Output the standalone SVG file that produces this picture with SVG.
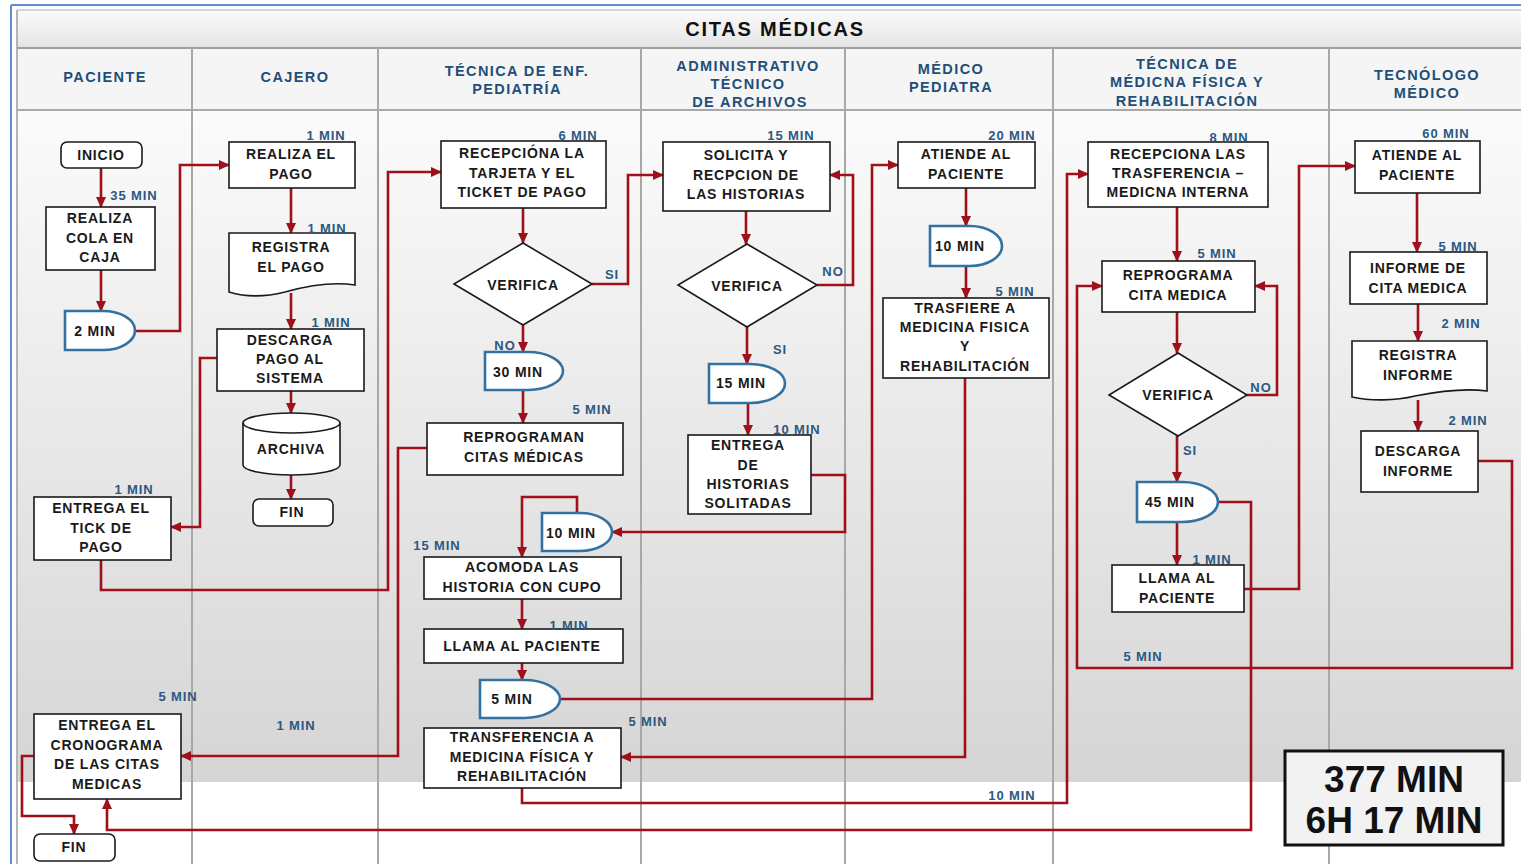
<svg xmlns="http://www.w3.org/2000/svg" width="1521" height="864" viewBox="0 0 1521 864">
<defs>
<linearGradient id="gBody" x1="0" y1="0" x2="0" y2="1">
<stop offset="0" stop-color="#fbfbfb"/>
<stop offset="1" stop-color="#d5d5d5"/>
</linearGradient>
<linearGradient id="gTitle" x1="0" y1="0" x2="0" y2="1">
<stop offset="0" stop-color="#fbfbfb"/>
<stop offset="1" stop-color="#e4e4e4"/>
</linearGradient>
<marker id="ah" markerUnits="userSpaceOnUse" markerWidth="11" markerHeight="10" viewBox="0 0 11 10" refX="10" refY="5" orient="auto">
<path d="M0,0 L11,5 L0,10 Z" fill="#a0101a"/>
</marker>
<style>
.box{fill:#fff;stroke:#1a1a1a;stroke-width:1.6}
.delay{fill:#fff;stroke:#3272a3;stroke-width:2.6}
.con{fill:none;stroke:#a0101a;stroke-width:2.6;marker-end:url(#ah)}
.lane{stroke:#a8a8a8;stroke-width:2}
.t{font-family:"Liberation Sans",Arial,sans-serif;font-weight:bold;font-size:14px;fill:#1a1a1a;text-anchor:middle;dominant-baseline:central;letter-spacing:0.8px}
.tm{font-family:"Liberation Sans",Arial,sans-serif;font-weight:bold;font-size:13px;fill:#2b5882;text-anchor:middle;dominant-baseline:central;letter-spacing:0.9px}
.hd{font-family:"Liberation Sans",Arial,sans-serif;font-weight:bold;font-size:14.5px;fill:#1f4e79;text-anchor:middle;dominant-baseline:central;letter-spacing:1.4px}
</style>
</defs>

<g id="background">
<rect x="0" y="0" width="1521" height="864" fill="#ffffff"/>
<rect x="17" y="10" width="1504" height="38" fill="url(#gTitle)"/>
<rect x="17" y="48" width="1504" height="62" fill="#f5f5f5"/>
<rect x="17" y="110" width="1504" height="672" fill="url(#gBody)"/>
<line x1="11" y1="5" x2="11" y2="864" stroke="#5b8fd0" stroke-width="2"/>
<line x1="11" y1="5" x2="1521" y2="5" stroke="#5b8fd0" stroke-width="2"/>
<line x1="17" y1="10" x2="17" y2="864" stroke="#b4b4b4" stroke-width="2"/>
<line x1="17" y1="10" x2="1521" y2="10" stroke="#c8c8c8" stroke-width="1.5"/>
<line x1="17" y1="48" x2="1521" y2="48" stroke="#a0a0a0" stroke-width="2"/>
<line x1="17" y1="110" x2="1521" y2="110" stroke="#a8a8a8" stroke-width="2"/>
<line class="lane" x1="192" y1="48" x2="192" y2="864"/>
<line class="lane" x1="378" y1="48" x2="378" y2="864"/>
<line class="lane" x1="641" y1="48" x2="641" y2="864"/>
<line class="lane" x1="845" y1="48" x2="845" y2="864"/>
<line class="lane" x1="1053" y1="48" x2="1053" y2="864"/>
<line class="lane" x1="1329" y1="48" x2="1329" y2="864"/>
<text x="775" y="29" style="font-family:'Liberation Sans',Arial,sans-serif;font-weight:bold;font-size:20px;fill:#111;text-anchor:middle;dominant-baseline:central;letter-spacing:1.8px">CITAS MÉDICAS</text>
<text class="hd" x="105" y="77">PACIENTE</text>
<text class="hd" x="295" y="77">CAJERO</text>
<text class="hd" x="517" y="71">TÉCNICA DE ENF.</text>
<text class="hd" x="517" y="89">PEDIATRÍA</text>
<text class="hd" x="748" y="66">ADMINISTRATIVO</text>
<text class="hd" x="748" y="84">TÉCNICO</text>
<text class="hd" x="750" y="102">DE ARCHIVOS</text>
<text class="hd" x="951" y="69">MÉDICO</text>
<text class="hd" x="951" y="87">PEDIATRA</text>
<text class="hd" x="1187" y="64">TÉCNICA DE</text>
<text class="hd" x="1187" y="82">MÉDICNA FÍSICA Y</text>
<text class="hd" x="1187" y="101">REHABILITACIÓN</text>
<text class="hd" x="1427" y="75">TECNÓLOGO</text>
<text class="hd" x="1427" y="93">MÉDICO</text>
</g>

<g id="connectors">
<path class="con" d="M101,167 V207"/>
<path class="con" d="M101,270 V311"/>
<path class="con" d="M134,331 H180 V165 H229"/>
<path class="con" d="M291,188 V233"/>
<path class="con" d="M291,293 V329"/>
<path class="con" d="M291,391 V413"/>
<path class="con" d="M291,475 V499"/>
<path class="con" d="M217,358 H200 V527 H171"/>
<path class="con" d="M101,560 V590 H388 V172 H441"/>
<path class="con" d="M523,208 V243"/>
<path class="con" d="M592,284 H628 V175 H663"/>
<path class="con" d="M523,325 V352"/>
<path class="con" d="M523,390 V423"/>
<path class="con" d="M427,448 H398 V756 H181"/>
<path class="con" d="M746,211 V244"/>
<path class="con" d="M817,285 H853 V175 H830"/>
<path class="con" d="M747,327 V364"/>
<path class="con" d="M748,403 V435"/>
<path class="con" d="M811,475 H845 V532 H612"/>
<path class="con" d="M577,513 V497 H522 V557"/>
<path class="con" d="M522,599 V629"/>
<path class="con" d="M522,663 V680"/>
<path class="con" d="M560,699 H872 V165 H898"/>
<path class="con" d="M966,188 V226"/>
<path class="con" d="M966,266 V298"/>
<path class="con" d="M965,378 V757 H621"/>
<path class="con" d="M522,788 V803 H1067 V174 H1088"/>
<path class="con" d="M1177,207 V261"/>
<path class="con" d="M1177,312 V353"/>
<path class="con" d="M1247,395 H1277 V286 H1255"/>
<path class="con" d="M1177,436 V482"/>
<path class="con" d="M1177,522 V565"/>
<path class="con" d="M1244,589 H1299 V166 H1355"/>
<path class="con" d="M1218,502 H1251 V830 H107 V799"/>
<path class="con" d="M1417,193 V252"/>
<path class="con" d="M1418,304 V341"/>
<path class="con" d="M1418,400 V431"/>
<path class="con" d="M1478,461 H1512 V668 H1077 V286 H1102"/>
<path class="con" d="M34,756 H22 V816 H74 V834"/>
</g>

<g id="n-inicio"><rect class="box" x="61" y="142" width="81" height="26" rx="6"/><text class="t" x="101" y="155">INICIO</text></g>
<g id="n-cola"><rect class="box" x="46" y="207" width="109" height="63"/><text class="t" x="100" y="218">REALIZA</text><text class="t" x="100" y="238">COLA EN</text><text class="t" x="100" y="257">CAJA</text></g>
<g id="n-2min"><path class="delay" d="M65,311 H103 A32,19.5 0 0 1 103,350 H65 Z"/><text class="t" x="95" y="331">2 MIN</text></g>
<g id="n-paga"><rect class="box" x="229" y="142" width="126" height="46"/><text class="t" x="291" y="154">REALIZA EL</text><text class="t" x="291" y="174">PAGO</text></g>
<g id="n-registra"><path class="box" d="M229,233 H355 V285 C335,282 310,285 285,292 C265,297 245,297 229,292 Z"/><text class="t" x="291" y="247">REGISTRA</text><text class="t" x="291" y="267">EL PAGO</text></g>
<g id="n-descarga"><rect class="box" x="217" y="329" width="147" height="62"/><text class="t" x="290" y="340">DESCARGA</text><text class="t" x="290" y="359">PAGO AL</text><text class="t" x="290" y="378">SISTEMA</text></g>
<g id="n-archiva"><path class="box" d="M243,423 V465 A48.5,10 0 0 0 340,465 V423 A48.5,10 0 0 0 243,423 Z"/><path d="M243,423 A48.5,10 0 0 0 340,423" fill="none" stroke="#1a1a1a" stroke-width="1.6"/><text class="t" x="291" y="449">ARCHIVA</text></g>
<g id="n-fin1"><rect class="box" x="253" y="499" width="80" height="27" rx="6"/><text class="t" x="292" y="512">FIN</text></g>
<g id="n-ticket"><rect class="box" x="34" y="497" width="137" height="63"/><text class="t" x="101" y="508">ENTREGA EL</text><text class="t" x="101" y="528">TICK DE</text><text class="t" x="101" y="547">PAGO</text></g>
<g id="n-recepciona"><rect class="box" x="441" y="141" width="165" height="67"/><text class="t" x="522" y="153">RECEPCIÓNA LA</text><text class="t" x="522" y="173">TARJETA Y EL</text><text class="t" x="522" y="192">TICKET DE PAGO</text></g>
<g id="n-verifica1"><polygon class="box" points="523,243 592,284 523,325 454,284"/><text class="t" x="523" y="285">VERIFICA</text></g>
<g id="n-30min"><path class="delay" d="M485,352 H528 A35,19 0 0 1 528,390 H485 Z"/><text class="t" x="518" y="372">30 MIN</text></g>
<g id="n-reprograman"><rect class="box" x="427" y="423" width="196" height="52"/><text class="t" x="524" y="437">REPROGRAMAN</text><text class="t" x="524" y="457">CITAS MÉDICAS</text></g>
<g id="n-10min-a"><path class="delay" d="M542,513 H580 A32,19 0 0 1 580,551 H542 Z"/><text class="t" x="571" y="533">10 MIN</text></g>
<g id="n-acomoda"><rect class="box" x="424" y="557" width="197" height="42"/><text class="t" x="522" y="567">ACOMODA LAS</text><text class="t" x="522" y="587">HISTORIA CON CUPO</text></g>
<g id="n-llama1"><rect class="box" x="424" y="629" width="199" height="34"/><text class="t" x="522" y="646">LLAMA AL PACIENTE</text></g>
<g id="n-5min"><path class="delay" d="M480,680 H524 A36,19 0 0 1 524,718 H480 Z"/><text class="t" x="512" y="699">5 MIN</text></g>
<g id="n-transferencia"><rect class="box" x="424" y="728" width="197" height="60"/><text class="t" x="522" y="737">TRANSFERENCIA A</text><text class="t" x="522" y="757">MEDICINA FÍSICA Y</text><text class="t" x="522" y="776">REHABILITACIÓN</text></g>
<g id="n-solicita"><rect class="box" x="663" y="142" width="167" height="69"/><text class="t" x="746" y="155">SOLICITA Y</text><text class="t" x="746" y="175">RECPCION DE</text><text class="t" x="746" y="194">LAS HISTORIAS</text></g>
<g id="n-verifica2"><polygon class="box" points="747,244 817,285 747,327 678,285"/><text class="t" x="747" y="286">VERIFICA</text></g>
<g id="n-15min"><path class="delay" d="M709,364 H750 A35,19.5 0 0 1 750,403 H709 Z"/><text class="t" x="741" y="383">15 MIN</text></g>
<g id="n-entrega-hist"><rect class="box" x="688" y="435" width="123" height="79"/><text class="t" x="748" y="445">ENTREGA</text><text class="t" x="748" y="465">DE</text><text class="t" x="748" y="484">HISTORIAS</text><text class="t" x="748" y="503">SOLITADAS</text></g>
<g id="n-atiende1"><rect class="box" x="898" y="142" width="137" height="46"/><text class="t" x="966" y="154">ATIENDE AL</text><text class="t" x="966" y="174">PACIENTE</text></g>
<g id="n-10min-b"><path class="delay" d="M930,226 H970 A32,20 0 0 1 970,266 H930 Z"/><text class="t" x="960" y="246">10 MIN</text></g>
<g id="n-trasfiere"><rect class="box" x="883" y="298" width="166" height="80"/><text class="t" x="965" y="308">TRASFIERE A</text><text class="t" x="965" y="327">MEDICINA FISICA</text><text class="t" x="965" y="346">Y</text><text class="t" x="965" y="366">REHABILITACIÓN</text></g>
<g id="n-recepciona-las"><rect class="box" x="1088" y="142" width="180" height="65"/><text class="t" x="1178" y="154">RECEPCIONA LAS</text><text class="t" x="1178" y="173">TRASFERENCIA –</text><text class="t" x="1178" y="192">MEDICNA INTERNA</text></g>
<g id="n-reprograma"><rect class="box" x="1102" y="261" width="153" height="51"/><text class="t" x="1178" y="275">REPROGRAMA</text><text class="t" x="1178" y="295">CITA MEDICA</text></g>
<g id="n-verifica3"><polygon class="box" points="1178,353 1247,395 1178,436 1109,395"/><text class="t" x="1178" y="395">VERIFICA</text></g>
<g id="n-45min"><path class="delay" d="M1137,482 H1182 A36,20 0 0 1 1182,522 H1137 Z"/><text class="t" x="1170" y="502">45 MIN</text></g>
<g id="n-llama2"><rect class="box" x="1112" y="565" width="132" height="47"/><text class="t" x="1177" y="578">LLAMA AL</text><text class="t" x="1177" y="598">PACIENTE</text></g>
<g id="n-atiende2"><rect class="box" x="1355" y="141" width="125" height="52"/><text class="t" x="1417" y="155">ATIENDE AL</text><text class="t" x="1417" y="175">PACIENTE</text></g>
<g id="n-informe"><rect class="box" x="1350" y="252" width="137" height="52"/><text class="t" x="1418" y="268">INFORME DE</text><text class="t" x="1418" y="288">CITA MEDICA</text></g>
<g id="n-registra-inf"><path class="box" d="M1352,341 H1487 V391 C1465,388 1440,391 1415,396 C1395,401 1370,401 1352,397 Z"/><text class="t" x="1418" y="355">REGISTRA</text><text class="t" x="1418" y="375">INFORME</text></g>
<g id="n-descarga-inf"><rect class="box" x="1361" y="431" width="117" height="61"/><text class="t" x="1418" y="451">DESCARGA</text><text class="t" x="1418" y="471">INFORME</text></g>
<g id="n-cronograma"><rect class="box" x="34" y="714" width="147" height="85"/><text class="t" x="107" y="725">ENTREGA EL</text><text class="t" x="107" y="745">CRONOGRAMA</text><text class="t" x="107" y="764">DE LAS CITAS</text><text class="t" x="107" y="784">MEDICAS</text></g>
<g id="n-fin2"><rect class="box" x="34" y="834" width="81" height="27" rx="6"/><text class="t" x="74" y="847">FIN</text></g>
<g id="n-total"><rect x="1285" y="751" width="218" height="94" fill="#f2f2f2" stroke="#111" stroke-width="3"/><text x="1394" y="779" style="font-family:'Liberation Sans',Arial,sans-serif;font-weight:bold;font-size:37px;fill:#111;text-anchor:middle;dominant-baseline:central">377 MIN</text><text x="1394" y="820" style="font-family:'Liberation Sans',Arial,sans-serif;font-weight:bold;font-size:37px;fill:#111;text-anchor:middle;dominant-baseline:central">6H 17 MIN</text></g>

<g id="time-labels">
<text class="tm" x="134" y="195">35 MIN</text>
<text class="tm" x="326" y="135">1 MIN</text>
<text class="tm" x="327" y="228">1 MIN</text>
<text class="tm" x="331" y="322">1 MIN</text>
<text class="tm" x="134" y="489">1 MIN</text>
<text class="tm" x="578" y="135">6 MIN</text>
<text class="tm" x="612" y="274">SI</text>
<text class="tm" x="505" y="345">NO</text>
<text class="tm" x="592" y="409">5 MIN</text>
<text class="tm" x="791" y="135">15 MIN</text>
<text class="tm" x="833" y="271">NO</text>
<text class="tm" x="780" y="349">SI</text>
<text class="tm" x="797" y="429">10 MIN</text>
<text class="tm" x="437" y="545">15 MIN</text>
<text class="tm" x="569" y="625">1 MIN</text>
<text class="tm" x="648" y="721">5 MIN</text>
<text class="tm" x="296" y="725">1 MIN</text>
<text class="tm" x="178" y="696">5 MIN</text>
<text class="tm" x="1012" y="135">20 MIN</text>
<text class="tm" x="1015" y="291">5 MIN</text>
<text class="tm" x="1012" y="795">10 MIN</text>
<text class="tm" x="1229" y="137">8 MIN</text>
<text class="tm" x="1217" y="253">5 MIN</text>
<text class="tm" x="1261" y="387">NO</text>
<text class="tm" x="1190" y="450">SI</text>
<text class="tm" x="1212" y="559">1 MIN</text>
<text class="tm" x="1143" y="656">5 MIN</text>
<text class="tm" x="1446" y="133">60 MIN</text>
<text class="tm" x="1458" y="246">5 MIN</text>
<text class="tm" x="1461" y="323">2 MIN</text>
<text class="tm" x="1468" y="420">2 MIN</text>
</g>
</svg>
